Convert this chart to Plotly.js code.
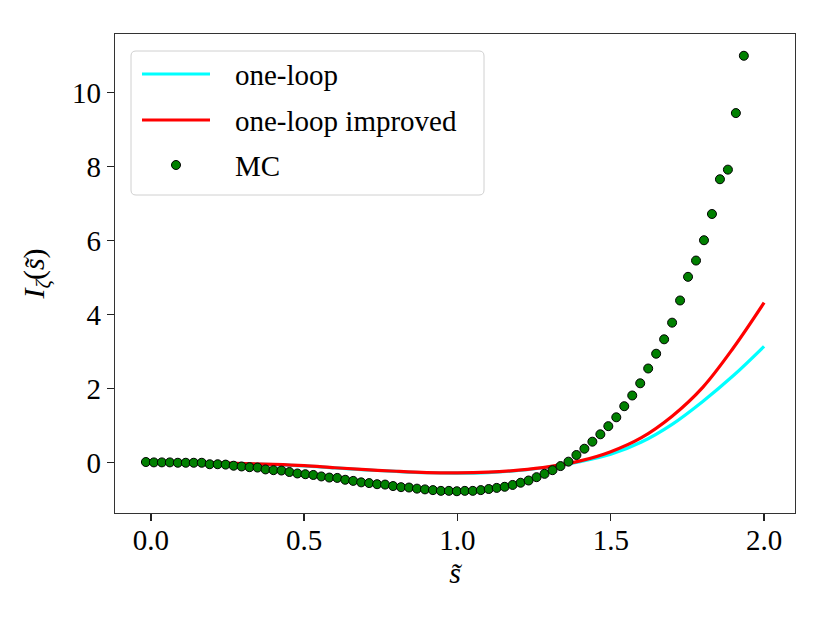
<!DOCTYPE html>
<html>
<head>
<meta charset="utf-8">
<script src="https://cdn.plot.ly/plotly-3.0.1.min.js"></script>
<style>html,body{margin:0;padding:0;background:#fff;}#chart{width:830px;height:623px;}</style>
</head>
<body>
<div id="chart"></div>
<script>
// Analytic curves
var sLine = [0.0,0.1,0.2,0.3,0.4,0.5,0.6,0.7,0.8,0.9,1.0,1.1,1.2,1.3,1.4,1.5,1.6,1.7,1.8,1.9,2.0];
var oneLoop = [0.0,-0.005,-0.015,-0.035,-0.06,-0.095,-0.15,-0.20,-0.245,-0.28,-0.29,-0.275,-0.22,-0.125,0.02,0.22,0.55,1.03,1.65,2.35,3.14];
var oneLoopImproved = [0.0,-0.005,-0.015,-0.03,-0.055,-0.09,-0.145,-0.195,-0.24,-0.275,-0.285,-0.265,-0.21,-0.115,0.04,0.29,0.67,1.25,2.03,3.10,4.32];

// Monte Carlo points
var sMC = [-0.016,0.010,0.036,0.062,0.088,0.114,0.140,0.166,0.192,0.218,
  0.244,0.270,0.296,0.322,0.348,0.374,0.400,0.426,0.452,0.478,
  0.504,0.530,0.556,0.582,0.608,0.634,0.660,0.686,0.712,0.738,
  0.764,0.790,0.816,0.842,0.868,0.894,0.920,0.946,0.972,0.998,
  1.024,1.050,1.076,1.102,1.128,1.154,1.180,1.206,1.232,1.258,
  1.284,1.310,1.336,1.362,1.388,1.414,1.440,1.466,1.492,1.518,
  1.544,1.570,1.596,1.622,1.648,1.674,1.700,1.726,1.752,1.778,
  1.804,1.830,1.856,1.882,1.908,1.934];
var mcValues = [0.01,0.00,0.00,0.00,-0.01,-0.01,-0.01,-0.01,-0.05,-0.05,
  -0.06,-0.09,-0.11,-0.13,-0.14,-0.19,-0.21,-0.22,-0.26,-0.30,
  -0.32,-0.34,-0.38,-0.41,-0.42,-0.47,-0.50,-0.54,-0.56,-0.59,
  -0.60,-0.64,-0.67,-0.68,-0.71,-0.73,-0.75,-0.77,-0.77,-0.78,
  -0.77,-0.77,-0.75,-0.72,-0.69,-0.66,-0.61,-0.55,-0.49,-0.40,
  -0.31,-0.21,-0.10,0.02,0.20,0.37,0.56,0.76,0.98,1.22,
  1.52,1.81,2.14,2.54,2.94,3.33,3.78,4.38,5.02,5.46,
  6.01,6.72,7.66,7.92,9.45,11.0];

var xTickVals = [0,0.5,1,1.5,2];
var xTickText = ['0.0','0.5','1.0','1.5','2.0'];
var yTickVals = [0,2,4,6,8,10];
var yTickText = ['0','2','4','6','8','10'];
var legendLabels = ['one-loop','one-loop improved','MC'];

var FONT = 'Liberation Serif, Times New Roman, serif';

var traces = [
  {x: sLine, y: oneLoop, mode: 'lines', name: legendLabels[0], line: {color: '#00ffff', width: 3.2, shape: 'spline', smoothing: 1}},
  {x: sLine, y: oneLoopImproved, mode: 'lines', name: legendLabels[1], line: {color: '#ff0000', width: 3.2, shape: 'spline', smoothing: 1}},
  {x: sMC, y: mcValues, mode: 'markers', name: legendLabels[2],
   marker: {color: '#008000', size: 9, line: {color: '#000000', width: 1}}}
];

// plot area: x 115..795, y 34..513
var L = 115, R = 795, T = 34, B = 513, W = R - L, H = B - T;
function px(x){ return (x - L) / W; }
function py(y){ return (B - y) / H; }

// custom legend (matplotlib style)
var bx0 = px(131), bx1 = px(484), by0 = py(195), by1 = py(51);
var rx = 5 / W, ry = 5 / H;
var boxPath = 'M' + (bx0 + rx) + ',' + by1 +
  ' L' + (bx1 - rx) + ',' + by1 + ' Q' + bx1 + ',' + by1 + ' ' + bx1 + ',' + (by1 - ry) +
  ' L' + bx1 + ',' + (by0 + ry) + ' Q' + bx1 + ',' + by0 + ' ' + (bx1 - rx) + ',' + by0 +
  ' L' + (bx0 + rx) + ',' + by0 + ' Q' + bx0 + ',' + by0 + ' ' + bx0 + ',' + (by0 + ry) +
  ' L' + bx0 + ',' + (by1 - ry) + ' Q' + bx0 + ',' + by1 + ' ' + (bx0 + rx) + ',' + by1 + ' Z';

var rowY = [74, 120, 165];
var shapes = [
  {type: 'path', xref: 'paper', yref: 'paper', path: boxPath,
   fillcolor: 'rgba(255,255,255,0.8)', line: {color: '#d0d0d0', width: 1}},
  {type: 'line', xref: 'paper', yref: 'paper', x0: px(142), x1: px(210), y0: py(rowY[0]), y1: py(rowY[0]),
   line: {color: '#00ffff', width: 3.2}},
  {type: 'line', xref: 'paper', yref: 'paper', x0: px(142), x1: px(210), y0: py(rowY[1]), y1: py(rowY[1]),
   line: {color: '#ff0000', width: 3.2}},
  {type: 'circle', xref: 'paper', yref: 'paper', x0: px(171.5), x1: px(180.5), y0: py(rowY[2] + 4.5), y1: py(rowY[2] - 4.5),
   fillcolor: '#008000', line: {color: '#000000', width: 1}}
];
var annotations = legendLabels.map(function(t, i){
  return {text: t, xref: 'paper', yref: 'paper', x: px(233), y: py(rowY[i] + 1), xanchor: 'left', yanchor: 'middle',
          showarrow: false, font: {family: FONT, size: 29, color: '#000'}};
});

var layout = {
  width: 830, height: 623,
  margin: {l: L, r: 830 - R, t: T, b: 623 - B},
  paper_bgcolor: '#ffffff', plot_bgcolor: '#ffffff',
  showlegend: false,
  font: {family: FONT, size: 29, color: '#000'},
  xaxis: {
    range: [-0.1168, 2.1008], tickmode: 'array', tickvals: xTickVals, ticktext: xTickText,
    showgrid: false, zeroline: false, showline: true, mirror: true, linecolor: '#333', linewidth: 1.2,
    ticks: 'outside', ticklen: 7, tickwidth: 1.4, tickcolor: '#222',
    ticklabelstandoff: -6,
    tickfont: {family: FONT, size: 29, color: '#000'},
    title: {text: '<i>s\u0303</i>', font: {family: FONT, size: 30, color: '#000'}, standoff: 4},
    automargin: false
  },
  yaxis: {
    range: [-1.369, 11.589], tickmode: 'array', tickvals: yTickVals, ticktext: yTickText,
    showgrid: false, zeroline: false, showline: true, mirror: true, linecolor: '#333', linewidth: 1.2,
    ticks: 'outside', ticklen: 7, tickwidth: 1.4, tickcolor: '#222',
    tickfont: {family: FONT, size: 29, color: '#000'},
    title: {text: '<i>I</i><sub><i>\u03b6</i></sub>(<i>s\u0303</i>)', font: {family: FONT, size: 30, color: '#000'}, standoff: 18},
    automargin: false
  },
  shapes: shapes,
  annotations: annotations
};

Plotly.newPlot('chart', traces, layout, {displayModeBar: false, staticPlot: true});
</script>
</body>
</html>
